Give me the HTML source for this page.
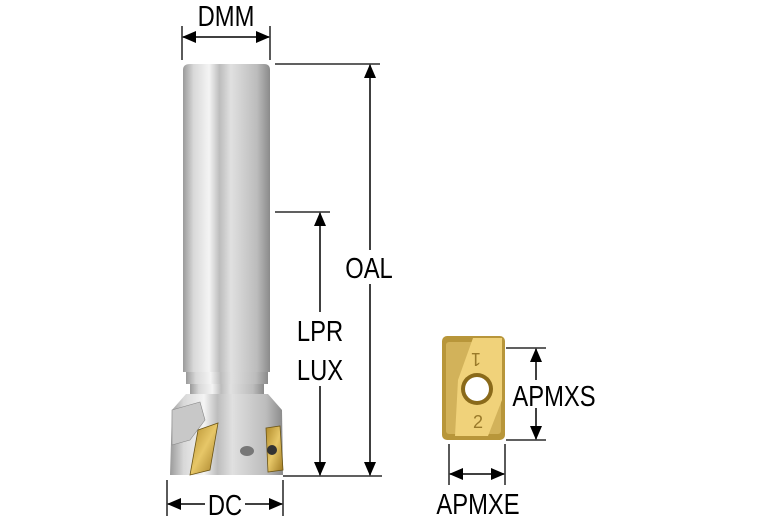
<!DOCTYPE html>
<html><head><meta charset="utf-8"><style>html,body{margin:0;padding:0;background:#fff}svg{display:block}</style></head><body>
<svg width="767" height="523" viewBox="0 0 767 523" xmlns="http://www.w3.org/2000/svg" font-family="Liberation Sans, sans-serif">
<defs>
<linearGradient id="sh" x1="0" x2="1">
<stop offset="0" stop-color="#9a9a9a"/><stop offset="0.12" stop-color="#d8d8d8"/><stop offset="0.3" stop-color="#f4f4f4"/><stop offset="0.42" stop-color="#bdbdbd"/><stop offset="0.55" stop-color="#e0e0e0"/><stop offset="0.85" stop-color="#bcbcbc"/><stop offset="1" stop-color="#8a8a8a"/>
</linearGradient>
<linearGradient id="gd" x1="0" x2="1" y1="0" y2="1">
<stop offset="0" stop-color="#b08a2a"/><stop offset="0.5" stop-color="#e7c768"/><stop offset="1" stop-color="#a07a22"/>
</linearGradient>
<marker id="a" markerWidth="14" markerHeight="12" refX="13" refY="6" orient="auto-start-reverse" markerUnits="userSpaceOnUse" viewBox="0 0 14 12"><path d="M0,0 L14,6 L0,12 z" fill="#000"/></marker>
</defs>
<path d="M183,70 Q183,64 190,64 L264,64 Q270,64 270,70 L270,372 L183,372 Z" fill="url(#sh)"/>
<rect x="186" y="372" width="82" height="12" fill="url(#sh)"/>
<rect x="190" y="384" width="74" height="10" fill="url(#sh)"/>
<path d="M186,394 L268,394 L282,410 L283,475 L170,475 L172,410 Z" fill="url(#sh)"/>
<path d="M172,410 L200,402 L205,420 L190,440 L172,445 Z" fill="#c8c8c8" stroke="#888" stroke-width="0.6"/>
<path d="M198,430 L218,423 L210,470 L190,475 Z" fill="url(#gd)" stroke="#6b5414" stroke-width="0.8"/>
<path d="M266,428 L280,426 L283,470 L268,472 Z" fill="url(#gd)" stroke="#6b5414" stroke-width="0.8"/>
<circle cx="272" cy="450" r="5" fill="#333"/>
<ellipse cx="247" cy="451" rx="7" ry="5" fill="#777"/>
<g font-size="29" text-anchor="middle">
<text transform="translate(226,26) scale(0.82,1)">DMM</text>
</g>
<line x1="182" y1="26" x2="182" y2="60" stroke="#000" stroke-width="1.3"/>
<line x1="270" y1="26" x2="270" y2="60" stroke="#000" stroke-width="1.3"/>
<line x1="183" y1="37" x2="269" y2="37" stroke="#000" stroke-width="1.5" marker-start="url(#a)" marker-end="url(#a)"/>
<line x1="275" y1="64" x2="380" y2="64" stroke="#000" stroke-width="1.3"/>
<line x1="283" y1="476" x2="382" y2="476" stroke="#000" stroke-width="1.3"/>
<line x1="370" y1="65" x2="370" y2="475" stroke="#000" stroke-width="1.5" marker-start="url(#a)" marker-end="url(#a)"/>
<rect x="343" y="250" width="52" height="34" fill="#fff"/>
<line x1="275" y1="212" x2="330" y2="212" stroke="#000" stroke-width="1.3"/>
<line x1="320" y1="213" x2="320" y2="475" stroke="#000" stroke-width="1.5" marker-start="url(#a)" marker-end="url(#a)"/>
<rect x="293" y="312" width="54" height="74" fill="#fff"/>
<line x1="167" y1="480" x2="167" y2="516" stroke="#000" stroke-width="1.3"/>
<line x1="283" y1="480" x2="283" y2="516" stroke="#000" stroke-width="1.3"/>
<line x1="168" y1="504" x2="205" y2="504" stroke="#000" stroke-width="1.5" marker-start="url(#a)"/>
<line x1="245" y1="504" x2="282" y2="504" stroke="#000" stroke-width="1.5" marker-end="url(#a)"/>
<rect x="442" y="336" width="63" height="104" rx="5" fill="#b8963a"/>
<rect x="446" y="342" width="55" height="92" rx="3" fill="#d2b25a"/>
<path d="M473,338 L502,338 L502,400 L488,436 L455,436 L458,380 Z" fill="#f0d27a"/>
<circle cx="477" cy="389" r="16" fill="#8a6a1a"/>
<circle cx="477" cy="389" r="12" fill="#fff"/>
<text x="476" y="365" font-size="18" fill="#9a7a2a" text-anchor="middle" transform="rotate(180 476 359)">1</text>
<text x="478" y="428" font-size="18" fill="#9a7a2a" text-anchor="middle">2</text>
<line x1="506" y1="348" x2="546" y2="348" stroke="#000" stroke-width="1.3"/>
<line x1="506" y1="440" x2="546" y2="440" stroke="#000" stroke-width="1.3"/>
<line x1="536" y1="349" x2="536" y2="380" stroke="#000" stroke-width="1.5" marker-start="url(#a)"/>
<line x1="536" y1="408" x2="536" y2="439" stroke="#000" stroke-width="1.5" marker-end="url(#a)"/>
<line x1="449" y1="444" x2="449" y2="485" stroke="#000" stroke-width="1.3"/>
<line x1="505" y1="444" x2="505" y2="485" stroke="#000" stroke-width="1.3"/>
<line x1="450" y1="474" x2="504" y2="474" stroke="#000" stroke-width="1.5" marker-start="url(#a)" marker-end="url(#a)"/>
<g font-size="29" text-anchor="middle">
<text transform="translate(369,278) scale(0.82,1)">OAL</text>
<text transform="translate(320,341) scale(0.82,1)">LPR</text>
<text transform="translate(320,380) scale(0.82,1)">LUX</text>
<text transform="translate(225,515) scale(0.82,1)">DC</text>
<text transform="translate(554,406) scale(0.82,1)">APMXS</text>
<text transform="translate(478,514) scale(0.82,1)">APMXE</text>
</g>
</svg>
</body></html>
